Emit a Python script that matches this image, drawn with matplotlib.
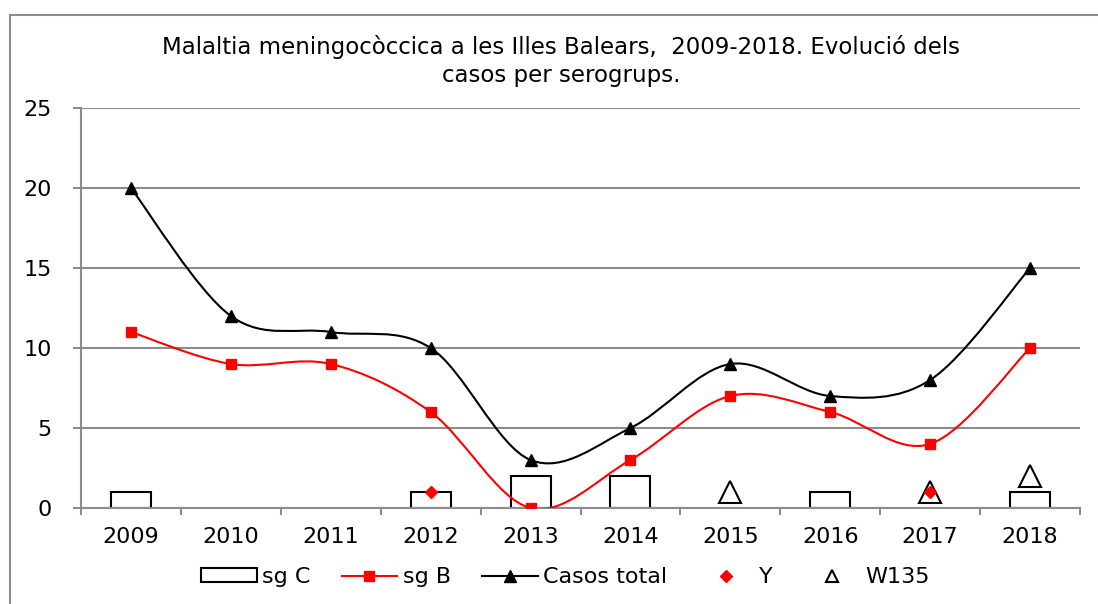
import numpy as np
import matplotlib
matplotlib.use("Agg")
import matplotlib.pyplot as plt
from matplotlib.path import Path
from matplotlib.patches import PathPatch, Rectangle
from matplotlib.lines import Line2D

nan = np.nan
anys = ["2009", "2010", "2011", "2012", "2013", "2014", "2015", "2016", "2017", "2018"]
sg_c = [1, nan, nan, 1, 2, 2, nan, 1, nan, 1]
sg_b = [11, 9, 9, 6, 0, 3, 7, 6, 4, 10]
casos_total = [20, 12, 11, 10, 3, 5, 9, 7, 8, 15]
sg_y = [nan, nan, nan, 1, nan, nan, nan, nan, 1, nan]
w135 = [nan, nan, nan, nan, nan, nan, 1, nan, 1, 2]

titol = "Malaltia meningocòccica a les Illes Balears,  2009-2018. Evolució dels\ncasos per serogrups."


def corba_suau(ax, xs, ys, color):
    # corba tipus Excel (Catmull-Rom -> Bezier)
    pts = np.column_stack([xs, ys]).astype(float)
    n = len(pts)
    verts = [pts[0]]
    codes = [Path.MOVETO]
    for i in range(n - 1):
        p0 = pts[i - 1] if i > 0 else pts[i]
        p1 = pts[i]
        p2 = pts[i + 1]
        p3 = pts[i + 2] if i + 2 < n else pts[i + 1]
        c1 = p1 + (p2 - p0) / 6.0
        c2 = p2 - (p3 - p1) / 6.0
        verts += [c1, c2, p2]
        codes += [Path.CURVE4] * 3
    ax.add_patch(PathPatch(Path(verts, codes), facecolor="none", edgecolor=color, lw=1.5, zorder=3))


fig = plt.figure(figsize=(10.98, 6.04), dpi=100)
fig.patches.append(Rectangle((10 / 1098, -0.1), 1.2, 1.1 - 15 / 604, transform=fig.transFigure,
                             fill=False, edgecolor="#8c8c8c", lw=1.5))
ax = fig.add_axes([81 / 1098, 96 / 604, 999 / 1098, 400 / 604])

x = np.arange(len(anys))
ax.bar(x, sg_c, width=0.4, facecolor="white", edgecolor="black", lw=1.5, zorder=2)

corba_suau(ax, x, sg_b, "red")
corba_suau(ax, x, casos_total, "black")
ax.plot(x, sg_b, ls="none", marker="s", ms=7, color="red", zorder=4)
ax.plot(x, casos_total, ls="none", marker="^", ms=8, color="black", zorder=4)
ax.plot(x, w135, ls="none", marker="^", ms=16, mfc="none", mec="black", mew=1.5, zorder=4)
ax.plot(x, sg_y, ls="none", marker="D", ms=6, color="red", zorder=5)

ax.set_xlim(-0.5, len(anys) - 0.5)
ax.set_ylim(0, 25)
ax.set_yticks([0, 5, 10, 15, 20, 25])
ax.set_xticks(x)
ax.set_xticklabels(anys)
ax.set_xticks(np.arange(-0.5, len(anys)), minor=True)
ax.tick_params(axis="x", which="major", length=0, pad=14, labelsize=16)
ax.tick_params(axis="x", which="minor", length=5, width=1.5, color="#8c8c8c")
ax.tick_params(axis="y", length=6, width=1.5, color="#8c8c8c", pad=15, labelsize=16)
ax.grid(axis="y", color="#8c8c8c", lw=1.5, zorder=0)
for s in ["top", "right"]:
    ax.spines[s].set_visible(False)
for s in ["left", "bottom"]:
    ax.spines[s].set_color("#8c8c8c")
    ax.spines[s].set_linewidth(1.5)

fig.text(0.511, 1 - 61 / 604, titol, ha="center", va="center", fontsize=16.5,
         family="DejaVu Sans", linespacing=1.3)

handles = [
    Rectangle((0, 0), 1, 1, facecolor="white", edgecolor="black", lw=1.5),
    Line2D([], [], color="red", lw=1.5, marker="s", ms=7),
    Line2D([], [], color="black", lw=1.5, marker="^", ms=8),
    Line2D([], [], color="red", ls="none", marker="D", ms=6),
    Line2D([], [], color="black", ls="none", marker="^", ms=8, mfc="none", mew=1.5),
]
fig.legend(handles, ["sg C", "sg B", "Casos total", "Y", "W135"], loc="center",
           bbox_to_anchor=(0.515, 1 - 577 / 604), ncol=5, frameon=False, fontsize=16,
           handlelength=2.5, handleheight=0.6, handletextpad=0.25, columnspacing=1.4)

fig.savefig("out.png", dpi=100)
